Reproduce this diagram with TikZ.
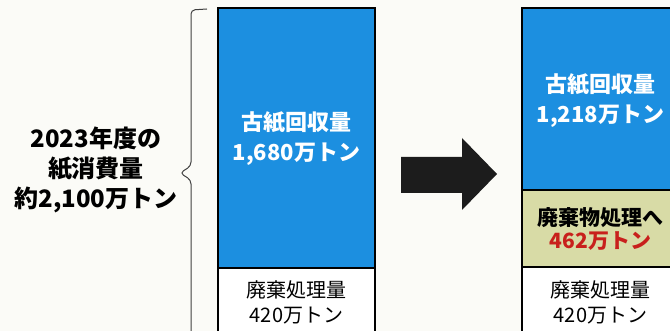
\documentclass[tikz,border=0pt]{standalone}
\usepackage{fontspec}
\setmainfont{Noto Sans CJK JP}
\definecolor{kamiblue}{HTML}{1C8FE0}
\definecolor{haikhaki}{HTML}{D8DBA6}
\definecolor{haired}{HTML}{C8201C}
\definecolor{bgpaper}{HTML}{FBFBF7}
\definecolor{arrowblk}{HTML}{1C1C1C}
\newcommand*{\barw }{157}
\newcommand*{\lbx  }{218}
\newcommand*{\rbx  }{522}
\newcommand*{\bartop}{8}
\newcommand*{\lcx  }{\lbx+\barw/2}
\newcommand*{\rcx  }{\rbx+\barw/2}

\begin{document}
\begin{tikzpicture}[x=1pt, y=-1pt,
    bigtxt/.style={align=center, font=\fontsize{24}{30}\selectfont\bfseries},
    bartxt/.style={align=center, font=\fontsize{22}{30}\selectfont\bfseries},
    smltxt/.style={align=center, font=\fontsize{20}{25}\selectfont},
    barline/.style={draw=black, line width=1.6pt}]
        \useasboundingbox (0,0) rectangle (670,331);
        \clip (0,0) rectangle (670,331);
        \fill [bgpaper] (0,0) rectangle (670,331);
        % left bar
        \draw [barline, fill=white] (\lbx,\bartop) rectangle ++(\barw,340);
        \draw [barline, fill=kamiblue] (\lbx,\bartop) rectangle ++(\barw,260);
        % right bar
        \draw [barline, fill=white] (\rbx,\bartop) rectangle ++(\barw,340);
        \draw [barline, fill=haikhaki] (\rbx,190) rectangle ++(\barw,77);
        \draw [barline, fill=kamiblue] (\rbx,\bartop) rectangle ++(\barw,182);
        % brace
        \draw [line width=1pt, black!75, rounded corners=4pt] (207,9) -- (191,10) -- (191,166) -- (180,173) -- (191,180) -- (191,345);
        % arrow
        \fill [arrowblk] (401,157) -- (462,157) -- (462,138) -- (497,174) -- (462,210) -- (462,193) -- (401,193) -- cycle;
        \node [bigtxt] (totalLbl) at (96,170) {2023年度の\\紙消費量\\約2,100万トン};
        \node [bartxt, text=white] (leftRecycle) at (\lcx,139) {古紙回収量\\1,680万トン};
        \node [smltxt] (leftDisposal) at (\lcx,302) {廃棄処理量\\420万トン};
        \node [bartxt, text=white] (rightRecycle) at (\rcx,101) {古紙回収量\\1,218万トン};
        \node [smltxt, font=\fontsize{21}{23}\selectfont\bfseries] (rightWaste) at (\rcx,229) {廃棄物処理へ\\\textcolor{haired}{462万トン}};
        \node [smltxt] (rightDisposal) at (\rcx,302) {廃棄処理量\\420万トン};
    \end{tikzpicture}
\end{document}
